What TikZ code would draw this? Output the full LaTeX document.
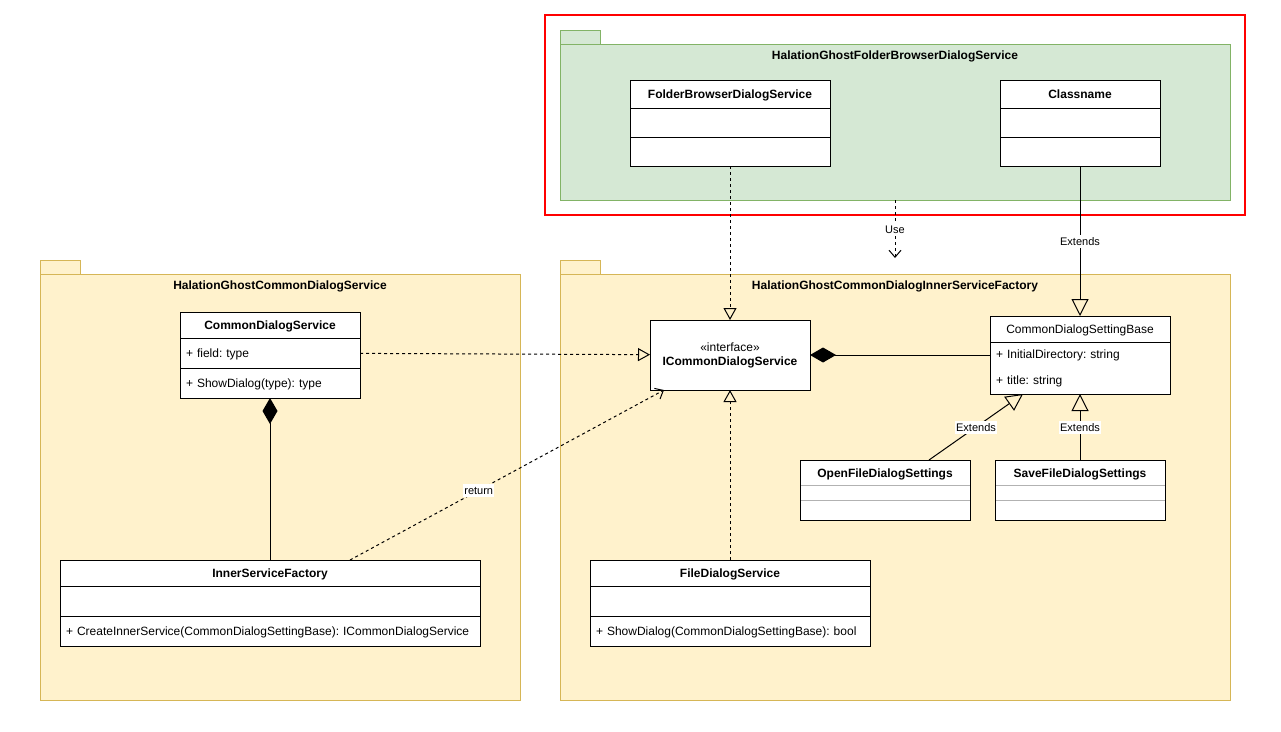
\documentclass[tikz,border=0pt]{standalone}
\usepackage{fontspec}
\setmainfont{Liberation Sans}
\usetikzlibrary{arrows.meta}
\definecolor{grnfill}{HTML}{D5E8D4}
\definecolor{grnline}{HTML}{82B366}
\definecolor{ylwfill}{HTML}{FFF2CC}
\definecolor{ylwline}{HTML}{D6B656}
\begin{document}
\fontsize{12}{14}\selectfont\frenchspacing
\begin{tikzpicture}
    [x=1pt,y=-1pt,line width=1pt,
     txt/.style={text height=10pt,text depth=1pt},
     pkg/.style={anchor=north west,inner sep=0pt,outer sep=0pt},
     title/.style={txt,font=\bfseries},
     head/.style={txt,draw=black,fill=white,anchor=north west,inner sep=0pt,outer sep=0pt,minimum height=26pt,font=\bfseries},
     row/.style={txt,draw=black,fill=white,anchor=north west,inner xsep=6pt,inner ysep=0pt,outer sep=0pt,align=left,minimum height=30pt},
     lbl/.style={txt,fill=white,inner sep=1pt,font=\fontsize{11}{13}\selectfont},
     real/.style={-{Triangle[open,length=12pt,width=13pt]},dash pattern=on 3pt off 3pt},
     gen/.style={-{Triangle[open,length=17pt,width=17pt]}},
     dep/.style={-{Straight Barb[length=7pt,width=12pt]},dash pattern=on 3pt off 3pt},
     own/.style={{Diamond[length=26pt,width=15pt]}-}]
    \useasboundingbox [fill=white] (0,0) rectangle (1281,731);
    \node [pkg,fill=grnfill,draw=grnline,minimum width=670pt,minimum height=156pt] (P1) at (560,44) {};
    \draw [fill=grnfill,draw=grnline] (560,30) rectangle (600,44);
    \node [title] (T1) at (895,55) {HalationGhostFolderBrowserDialogService};
    \node [pkg,fill=ylwfill,draw=ylwline,minimum width=480pt,minimum height=426pt] (P2) at (40,274) {};
    \draw [fill=ylwfill,draw=ylwline] (40,260) rectangle (80,274);
    \node [title] (T2) at (280,285) {HalationGhostCommonDialogService};
    \node [pkg,fill=ylwfill,draw=ylwline,minimum width=670pt,minimum height=426pt] (P3) at (560,274) {};
    \draw [fill=ylwfill,draw=ylwline] (560,260) rectangle (600,274);
    \node [title] (T3) at (895,285) {HalationGhostCommonDialogInnerServiceFactory};
    \draw [red,line width=2pt] (545,15) rectangle (1245,215);

    \node [draw=black,fill=white,anchor=north west,minimum width=160pt,minimum height=70pt,
      align=center,inner sep=0pt,outer sep=0pt] (F) at (650,320) {«interface»\\\textbf{ICommonDialogService}};

    \node [head,minimum width=200pt,minimum height=28pt] (A) at (630,80) {FolderBrowserDialogService};
    \node [row,text width=188pt,minimum height=29pt] (A1) at (A.south west) {};
    \node [row,text width=188pt,minimum height=29pt] (A2) at (A1.south west) {}
      edge [real] (F);

    \node [head,minimum width=160pt,minimum height=28pt] (B) at (1000,80) {Classname};
    \node [row,text width=148pt,minimum height=29pt] (B1) at (B.south west) {};
    \node [row,text width=148pt,minimum height=29pt] (B2) at (B1.south west) {};

    \node [head,minimum width=180pt] (C) at (180,312) {CommonDialogService};
    \node [row,text width=168pt] (C1) at (C.south west) {+ field: type}
      edge [real] (F);
    \node [row,text width=168pt] (C2) at (C1.south west) {+ ShowDialog(type): type};

    \node [head,minimum width=420pt] (D) at (60,560) {InnerServiceFactory};
    \node [row,text width=408pt] (D1) at (D.south west) {};
    \node [row,text width=408pt] (D2) at (D1.south west) {+ CreateInnerService(CommonDialogSettingBase): ICommonDialogService};

    \node [head,minimum width=280pt] (E) at (590,560) {FileDialogService}
      edge [real] (F);
    \node [row,text width=268pt] (E1) at (E.south west) {};
    \node [row,text width=268pt] (E2) at (E1.south west) {+ ShowDialog(CommonDialogSettingBase): bool};

    \node [head,font=\mdseries,minimum width=180pt] (G) at (990,316) {CommonDialogSettingBase};
    \node [row,text height=,text depth=,text width=168pt,minimum height=52pt] (G1) at (G.south west)
      {+ InitialDirectory: string\\[12pt]+ title: string};

    \node [head,draw=gray!60,minimum width=170pt,minimum height=25pt] (H) at (800,460) {OpenFileDialogSettings};
    \node [row,draw=gray!60,text width=158pt,minimum height=15pt] (H1) at (H.south west) {};
    \node [row,draw=gray!60,text width=158pt,minimum height=20pt] (H2) at (H1.south west) {};
    \draw (H.north west) rectangle (H2.south east);

    \node [head,draw=gray!60,minimum width=170pt,minimum height=25pt] (I) at (995,460) {SaveFileDialogSettings};
    \node [row,draw=gray!60,text width=158pt,minimum height=15pt] (I1) at (I.south west) {};
    \node [row,draw=gray!60,text width=158pt,minimum height=20pt] (I2) at (I1.south west) {};
    \draw (I.north west) rectangle (I2.south east);

    \coordinate (U) at (895,258);
    \draw [dep] (P1.south) -- node [lbl] (L1) {Use} (U);
    \draw [gen] (B2) -- node [lbl] (L2) {Extends} (G);
    \draw [own] (C2) -- (D);
    \draw [dep] ([xshift=80pt]D.north) -- node [lbl,pos=0.41] (L3) {return} ([xshift=14pt]F.south west);
    \draw [own] (F.east) -- (F.east -| G1.west);
    \draw [gen] ([xshift=44pt]H.north) -- node [lbl] (L4) {Extends} ([xshift=33pt]G1.south west);
    \draw [gen] (I) -- node [lbl] (L5) {Extends} (G1);
  \end{tikzpicture}
\end{document}
